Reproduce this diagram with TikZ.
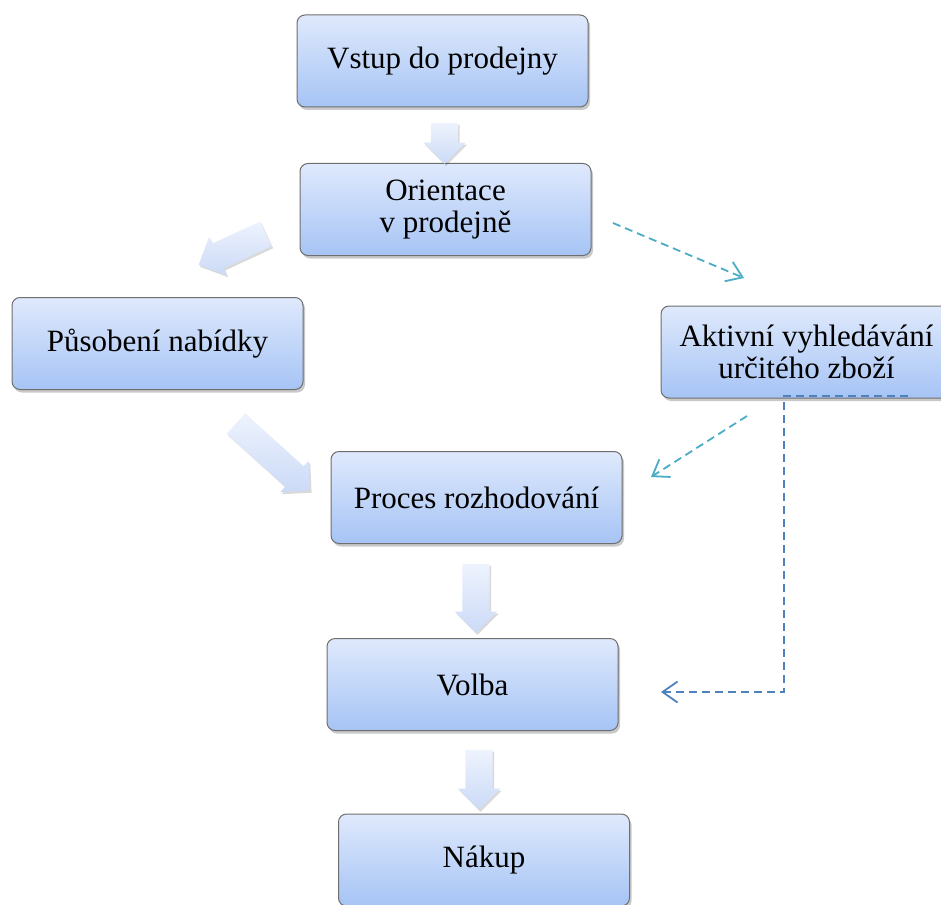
\documentclass[tikz,border=0pt]{standalone}
\usepackage{fontspec}
\setmainfont{Liberation Serif}
\usetikzlibrary{shapes.arrows,shadows,arrows.meta}
\definecolor{boxtop}{RGB}{223,233,252}
\definecolor{boxbot}{RGB}{166,196,245}
\definecolor{boxline}{RGB}{110,110,110}
\definecolor{arrtail}{RGB}{238,243,253}
\definecolor{arrhead}{RGB}{203,218,247}
\definecolor{dteal}{RGB}{75,172,198}
\definecolor{dblue}{RGB}{79,129,189}
\begin{document}
\begin{tikzpicture}[x=1pt,y=-1pt,
  stage/.style={draw=boxline, line width=1pt, rounded corners=8pt,
    top color=boxtop, bottom color=boxbot,
    minimum width=291pt, minimum height=92pt, align=center, inner sep=0pt,
    font=\fontsize{31}{32}\selectfont,
    drop shadow={shadow xshift=2pt, shadow yshift=-3pt, opacity=0.3, fill=black!70}},
  blockarrow/.style={single arrow, draw=none, inner sep=0pt, inner ysep=13.5pt,
    single arrow head extend=7.5pt, minimum width=42pt,
    top color=arrtail, bottom color=arrhead,
    drop shadow={shadow xshift=1.5pt, shadow yshift=-2pt, opacity=0.15, fill=black}},
  dashconn/.style={dash pattern=on 8pt off 5pt, line width=1.8pt,
    -{Straight Barb[length=15pt,width=21pt]}}
]
\useasboundingbox (0,0) rectangle (941,904);

\node[stage] (vstup)  at (442.5,61)   {Vstup do prodejny};
\node[stage] (orient) at (445.5,209.5) {Orientace\\v prodejně};
\node[stage] (pusob)  at (157.5,343.5) {Působení nabídky};
\node[stage] (aktiv)  at (806.5,352)  {Aktivní vyhledávání\\určitého zboží};
\node[stage] (proces) at (476.5,497.5) {Proces rozhodování};
\node[stage] (volba)  at (472.5,684.5) {Volba};
\node[stage] (nakup)  at (484,860)    {Nákup};

\node[blockarrow, minimum height=41pt, rotate=-90] (a1) at (444.5,136.5) {};
\node[blockarrow, minimum height=74pt, rotate=204.8] (a2) at (238.5,246.5) {};
\node[blockarrow, minimum height=100pt, rotate=-42.2] (a3) at (268,452.5) {};
\node[blockarrow, minimum height=69pt, rotate=-90] (a4) at (476,591.5) {};
\node[blockarrow, minimum height=60pt, rotate=-90] (a5) at (479,773) {};

\coordinate (d1s) at (613,223);
\coordinate (d1e) at (744,278);
\coordinate (d2s) at (747,416);
\coordinate (d2e) at (651,477);
\coordinate (d3s) at (908,396);
\coordinate (d3a) at (784,396);
\coordinate (d3b) at (784,692);
\coordinate (d3e) at (661,692);
\draw[dashconn, dteal] (d1s) -- (d1e);
\draw[dashconn, dteal] (d2s) -- (d2e);
\draw[dashconn, dblue] (d3s) -- (d3a) -- (d3b) -- (d3e);
\end{tikzpicture}
\end{document}
